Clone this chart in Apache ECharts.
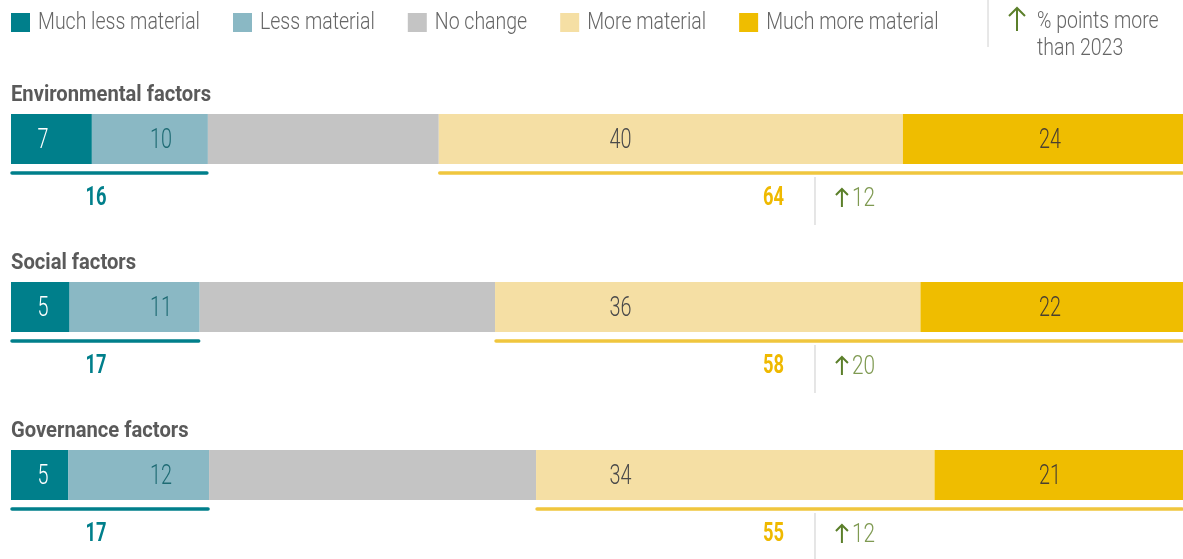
<!DOCTYPE html>
<html><head><meta charset="utf-8">
<script src="https://cdn.jsdelivr.net/npm/echarts@6/dist/echarts.min.js"></script>
<style>html,body{margin:0;padding:0;background:#fff}#c{width:1183px;height:559px}</style>
</head><body><div id="c"></div>
<script>
const categories = ['Environmental factors', 'Social factors', 'Governance factors'];
const seriesNames = ['Much less material', 'Less material', 'No change', 'More material', 'Much more material'];
const muchLess = [6.9, 5.0, 4.9];
const less = [9.9, 11.1, 12.0];
const noChange = [19.7, 25.2, 27.9];
const more = [39.6, 36.3, 34.0];
const muchMore = [23.9, 22.4, 21.2];
const lessTotals = [16, 17, 17];
const moreTotals = [64, 58, 55];
const changeVs2023 = [12, 20, 12];
const changeNote = ['% points more', 'than 2023'];

const FAM = "Roboto, 'DejaVu Sans Condensed', sans-serif";
const legendFont = '300 24px ' + FAM;
const titleFont = 'bold 22px ' + FAM;
const labelFont = '300 27px ' + FAM;
const totalFont = 'bold 25px ' + FAM;
const changeFont = '300 26px ' + FAM;
const ARROW_GREEN = '#5B7F2A';

const colors = ['#007F8B', '#8AB8C4', '#C4C4C4', '#F5DFA4', '#EFBD00'];
const labelColors = ['#FFFFFF', '#1E6B74', null, '#4A4A4A', '#4A4030'];
const values = [muchLess, less, noChange, more, muchMore];
// fixed label anchors, in axis units (0-100)
const labelAnchors = [2.73, 12.8, null, 52.0, 88.65];

// condensed look: horizontal scale factors from measured text
const ctx = document.createElement('canvas').getContext('2d');
function measure(t, f) { ctx.font = f; return ctx.measureText(t).width; }
const sLegend = 162 / measure('Much less material', legendFont);
const sTitle = 200 / measure('Environmental factors', titleFont);
const sLabel = 22 / measure('40', labelFont);
const sTotal = 21 / measure('64', totalFont);
const sChange = 23 / measure('12', changeFont);

const chart = echarts.init(document.getElementById('c'), null, {renderer: 'canvas'});

const barSeries = seriesNames.map((name, k) => ({
  name, type: 'bar', stack: 'total', barWidth: 50, silent: true,
  itemStyle: {color: colors[k]},
  data: values[k]
}));

function stext(x, y, s, style) {
  return {type: 'text', x: x, y: y, scaleX: s, style: Object.assign({x: 0, y: 0, verticalAlign: 'middle'}, style)};
}
function upArrow(cx, top, bottom, half, lw) {
  return {type: 'group', children: [
    {type: 'line', shape: {x1: cx, y1: top + 1, x2: cx, y2: bottom}, style: {stroke: ARROW_GREEN, lineWidth: lw}},
    {type: 'polyline', shape: {points: [[cx - half, top + half], [cx, top], [cx + half, top + half]]}, style: {stroke: ARROW_GREEN, lineWidth: lw, fill: null}}
  ]};
}

const annot = {
  type: 'custom', silent: true, clip: false, z: 10,
  data: categories.map((c, i) => [0, i]),
  encode: {x: 0, y: 1},
  renderItem: function (params, api) {
    const i = params.dataIndex;
    const p0 = api.coord([0, i]);
    const x0 = p0[0], yc = p0[1];
    const xLessEnd = api.coord([muchLess[i] + less[i], i])[0];
    const xMoreStart = api.coord([muchLess[i] + less[i] + noChange[i], i])[0];
    const xEnd = api.coord([muchLess[i] + less[i] + noChange[i] + more[i] + muchMore[i], i])[0];
    const ax = v => api.coord([v, i])[0];
    const kids = [];
    kids.push(stext(x0, yc - 44, sTitle, {text: categories[i], font: titleFont, fill: '#5A5A5A', align: 'left'}));
    for (let k = 0; k < 5; k++) {
      if (labelAnchors[k] == null) continue;
      kids.push(stext(ax(labelAnchors[k]), yc + 2, sLabel, {text: String(Math.round(values[k][i])), font: labelFont, fill: labelColors[k], align: 'center'}));
    }
    kids.push({type: 'line', shape: {x1: x0 + 1, y1: yc + 34, x2: xLessEnd - 1, y2: yc + 34}, style: {stroke: '#007F8B', lineWidth: 3.5, lineCap: 'round'}});
    kids.push({type: 'line', shape: {x1: xMoreStart + 1, y1: yc + 34, x2: xEnd - 1, y2: yc + 34}, style: {stroke: '#F0C63E', lineWidth: 3.5, lineCap: 'round'}});
    kids.push(stext(ax(7.25), yc + 60, sTotal, {text: String(lessTotals[i]), font: totalFont, fill: '#007F8B', align: 'center'}));
    kids.push(stext(ax(65.95), yc + 60, sTotal, {text: String(moreTotals[i]), font: totalFont, fill: '#EFB900', align: 'right'}));
    kids.push({type: 'line', shape: {x1: ax(68.6), y1: yc + 38, x2: ax(68.6), y2: yc + 86}, style: {stroke: '#CCCCCC', lineWidth: 1}});
    const xc = ax(70.3);
    kids.push(upArrow(xc + 7, yc + 50, yc + 68, 6, 2));
    kids.push(stext(xc + 17, yc + 60, sChange, {text: String(changeVs2023[i]), font: changeFont, fill: '#7F9A52', align: 'left'}));
    return {type: 'group', children: kids};
  }
};

// legend drawn as graphic so the condensed text can be scaled
const legendEls = [];
let lx = 11;
seriesNames.forEach((name, k) => {
  legendEls.push({type: 'rect', x: lx, y: 13, shape: {x: 0, y: 0, width: 19, height: 19}, style: {fill: colors[k]}});
  legendEls.push({type: 'text', x: lx + 27, y: 23, scaleX: sLegend, style: {x: 0, y: 0, text: name, font: legendFont, fill: '#666666', verticalAlign: 'middle', align: 'left'}});
  lx += 27 + measure(name, legendFont) * sLegend + 33;
});
legendEls.push({type: 'line', shape: {x1: 988, y1: 0, x2: 988, y2: 47}, style: {stroke: '#D0D0D0', lineWidth: 1}});
legendEls.push(upArrow(1017, 8, 31, 8, 2));
legendEls.push({type: 'text', x: 1037, y: 22, scaleX: sLegend, style: {x: 0, y: 0, text: changeNote[0], font: legendFont, fill: '#666666', verticalAlign: 'middle'}});
legendEls.push({type: 'text', x: 1037, y: 49, scaleX: sLegend, style: {x: 0, y: 0, text: changeNote[1], font: legendFont, fill: '#666666', verticalAlign: 'middle'}});

chart.setOption({
  animation: false,
  backgroundColor: '#fff',
  grid: {left: 11, right: 0, top: 55, height: 510},
  xAxis: {type: 'value', min: 0, max: 100, show: false},
  yAxis: {type: 'category', data: categories, inverse: true, show: false},
  graphic: legendEls,
  series: barSeries.concat([annot])
});
</script>
</body></html>
